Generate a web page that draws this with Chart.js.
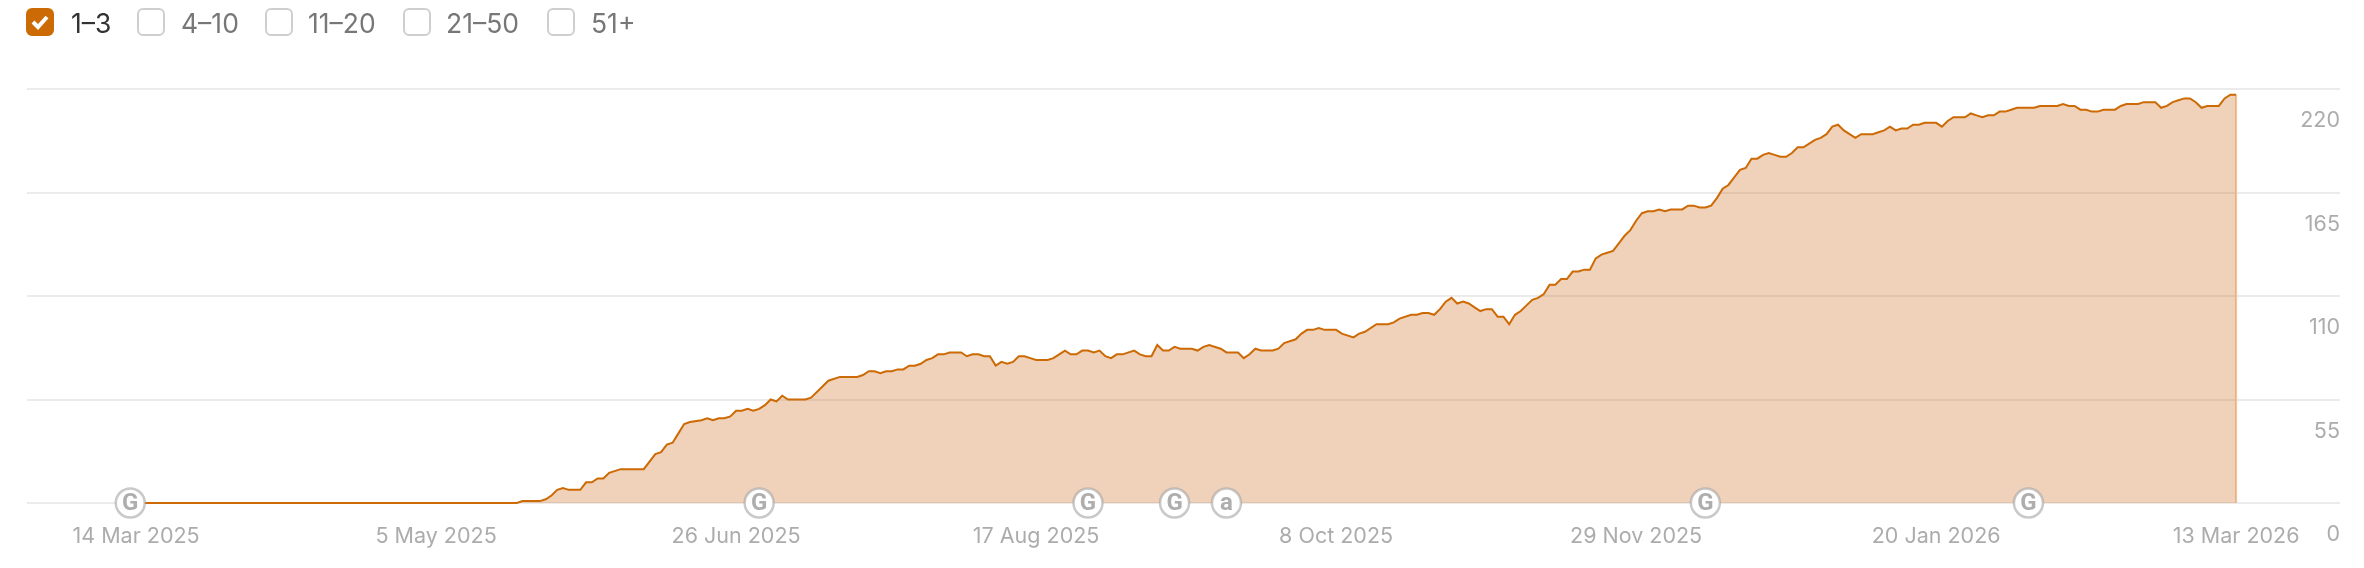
<!DOCTYPE html>
<html>
<head>
<meta charset="utf-8">
<title>Top 3 keyword positions</title>
<script src="https://cdn.jsdelivr.net/npm/chart.js@4"></script>
<style>
    html, body { margin: 0; padding: 0; background: #fff; }
    body { width: 2364px; height: 568px; position: relative; overflow: hidden; font-family: Inter, sans-serif; }
    #chart { position: absolute; left: 0; top: 0; }
    .pos { position: absolute; top: 9px; height: 28px; line-height: 28px; font-size: 26.5px; color: #777; white-space: nowrap; }
    .pos i { position: absolute; left: 0; top: -1px; width: 24px; height: 24px; border: 2px solid #cfcfcf; border-radius: 6px; background: #fff; }
    .pos span { position: absolute; top: 0; }
    .pos.on { color: #333; }
    .pos.on i { background: #cc6a05; border-color: #cc6a05; }
    .pos.on svg { position: absolute; left: 4px; top: 4px; }
</style>
</head>
<body>
<canvas id="chart" width="2364" height="568"></canvas>
<div id="legend"></div>
<script>
// days since 14 Mar 2025, only the days where the line changes direction are kept
const rankDays = [
    0, 66, 67, 70, 71, 72, 73, 74, 75, 77,
    78, 79, 80, 81, 82, 84, 88, 89, 90, 91,
    92, 93, 94, 95, 96, 98, 99, 100, 101, 102,
    103, 104, 105, 106, 107, 108, 109, 110, 111, 112,
    113, 116, 117, 120, 122, 125, 126, 127, 128, 129,
    130, 131, 132, 133, 134, 135, 136, 137, 138, 139,
    140, 141, 143, 144, 145, 146, 147, 148, 149, 150,
    151, 152, 153, 154, 155, 156, 158, 159, 160, 161,
    162, 163, 164, 165, 166, 167, 168, 169, 170, 171,
    173, 174, 175, 176, 177, 178, 179, 180, 181, 183,
    184, 185, 186, 188, 189, 191, 192, 193, 194, 195,
    197, 198, 199, 201, 202, 203, 204, 205, 206, 208,
    209, 211, 212, 213, 215, 217, 218, 219, 221, 222,
    223, 224, 225, 226, 227, 228, 229, 230, 231, 232,
    233, 234, 235, 236, 237, 238, 239, 240, 241, 242,
    243, 244, 245, 246, 247, 248, 249, 250, 251, 252,
    253, 254, 255, 256, 257, 258, 259, 260, 261, 262,
    263, 264, 265, 266, 268, 269, 270, 271, 272, 273,
    274, 275, 276, 277, 278, 279, 280, 281, 282, 283,
    284, 285, 286, 287, 288, 289, 290, 291, 292, 293,
    294, 295, 296, 297, 298, 299, 301, 302, 303, 304,
    305, 306, 307, 308, 309, 310, 312, 313, 314, 315,
    317, 318, 319, 320, 321, 322, 323, 324, 325, 326,
    329, 330, 333, 334, 335, 336, 337, 338, 339, 340,
    341, 343, 344, 345, 347, 348, 350, 351, 352, 353,
    354, 355, 356, 357, 358, 359, 361, 362, 363, 364
];
const rankValues = [
    0, 0, 1, 1, 2, 4, 7, 8, 7, 7,
    11, 11, 13, 13, 16, 18, 18, 22, 26, 27,
    31, 32, 37, 42, 43, 44, 45, 44, 45, 45,
    46, 49, 49, 50, 49, 50, 52, 55, 54, 57,
    55, 55, 56, 65, 67, 67, 68, 70, 70, 69,
    70, 70, 71, 71, 73, 73, 74, 76, 77, 79,
    79, 80, 80, 78, 79, 79, 78, 78, 73, 75,
    74, 75, 78, 78, 77, 76, 76, 77, 79, 81,
    79, 79, 81, 81, 80, 81, 78, 77, 79, 79,
    81, 79, 78, 78, 84, 81, 81, 83, 82, 82,
    81, 83, 84, 82, 80, 80, 77, 79, 82, 81,
    81, 82, 85, 87, 90, 92, 92, 93, 92, 92,
    90, 88, 90, 91, 95, 95, 96, 98, 100, 100,
    101, 101, 100, 103, 107, 109, 106, 107, 106, 104,
    102, 103, 103, 99, 99, 95, 100, 102, 105, 108,
    109, 111, 116, 116, 119, 119, 123, 123, 124, 124,
    130, 132, 133, 134, 138, 142, 145, 150, 154, 155,
    155, 156, 155, 156, 156, 158, 158, 157, 157, 158,
    162, 167, 169, 173, 177, 178, 183, 183, 185, 186,
    185, 184, 184, 186, 189, 189, 191, 193, 194, 196,
    200, 201, 198, 196, 194, 196, 196, 197, 198, 200,
    198, 199, 199, 201, 201, 202, 202, 200, 203, 205,
    205, 207, 206, 205, 206, 206, 208, 208, 209, 210,
    210, 211, 211, 212, 211, 211, 209, 209, 208, 208,
    209, 209, 211, 212, 212, 213, 213, 210, 211, 213,
    214, 215, 215, 213, 210, 211, 211, 215, 217, 217
];
const xTickDays = [0, 52, 104, 156, 208, 260, 312, 364];
const xTickLabels = ["14 Mar 2025", "5 May 2025", "26 Jun 2025", "17 Aug 2025", "8 Oct 2025", "29 Nov 2025", "20 Jan 2026", "13 Mar 2026"];
const yTicks = [0, 55, 110, 165, 220];
const eventDays = [-1, 108, 165, 180, 189, 272, 328];
const eventLetters = ["G", "G", "G", "G", "a", "G", "G"];
const positions = ["1–3", "4–10", "11–20", "21–50", "51+"];

// the position filter row above the chart
const boxLeft = [26, 137, 265, 403, 547];
const textLeft = [45, 44, 43, 43, 44];
const legend = document.getElementById("legend");
positions.forEach((name, i) => {
    const el = document.createElement("div");
    el.className = i === 0 ? "pos on" : "pos";
    el.style.left = boxLeft[i] + "px";
    el.innerHTML = `<i></i>` +
        (i === 0 ? `<svg width="20" height="18" viewBox="0 0 20 18"><path d="M3 9l5 5 9-10" fill="none" stroke="#fff" stroke-width="4"/></svg>` : "") +
        `<span style="left:${textLeft[i]}px">${name}</span>`;
    legend.appendChild(el);
});

// letters inside the update markers
const eventLetterPlugin = {
    id: "eventLetters",
    afterDatasetsDraw(chart) {
        const ctx = chart.ctx;
        ctx.save();
        ctx.textAlign = "center";
        ctx.textBaseline = "middle";
        ctx.fillStyle = "#aeaeae";
        ctx.font = "bold 24px Roboto, sans-serif";
        eventDays.forEach((day, i) => {
            ctx.fillText(eventLetters[i], chart.scales.x.getPixelForValue(day), chart.scales.y.getPixelForValue(0) + 1);
        });
        ctx.restore();
    }
};

const lastDay = rankDays[rankDays.length - 1];
const lastValue = rankValues[rankValues.length - 1];

new Chart(document.getElementById("chart"), {
    type: "line",
    plugins: [eventLetterPlugin],
    data: {
        datasets: [
            {
                // markers on the baseline
                data: eventDays.map(d => ({ x: d, y: 0 })),
                showLine: false,
                pointRadius: 14.5,
                pointBackgroundColor: "#ffffff",
                pointBorderColor: "rgba(165, 165, 165, 0.6)",
                pointBorderWidth: 2.5,
                clip: false,
                order: 0
            },
            {
                // closing edge on the right of the area
                data: [{ x: lastDay, y: 0 }, { x: lastDay, y: lastValue }],
                borderColor: "#f0c7a4",
                borderWidth: 2,
                pointRadius: 0,
                order: 2
            },
            {
                data: rankDays.map((d, i) => ({ x: d, y: rankValues[i] })),
                borderColor: "#cc6a05",
                borderWidth: 2,
                backgroundColor: "rgba(205, 102, 22, 0.3)",
                fill: "origin",
                pointRadius: 0,
                tension: 0,
                clip: false,
                order: 1
            }
        ]
    },
    options: {
        responsive: false,
        animation: false,
        layout: { padding: { left: 27, right: 24, top: 89, bottom: 0 } },
        plugins: { legend: { display: false }, tooltip: { enabled: false } },
        scales: {
            x: {
                type: "linear",
                min: -18.9,
                max: 382,
                grid: { display: false },
                border: { display: false },
                afterBuildTicks: axis => { axis.ticks = xTickDays.map(v => ({ value: v })); },
                afterFit: axis => { axis.height = 65; },
                ticks: {
                    autoSkip: false,
                    maxRotation: 0,
                    padding: 13,
                    color: "#acacac",
                    font: { family: "Inter", size: 21.5 },
                    callback: v => xTickLabels[xTickDays.indexOf(v)]
                }
            },
            y: {
                position: "right",
                min: 0,
                max: 220,
                grid: { color: "#ebebeb", lineWidth: 2, drawTicks: false },
                border: { display: false },
                afterBuildTicks: axis => { axis.ticks = yTicks.map(v => ({ value: v })); },
                ticks: {
                    mirror: true,
                    padding: 0,
                    labelOffset: 32,
                    color: "#acacac",
                    font: { family: "Inter", size: 21.5 }
                }
            }
        }
    }
});
</script>
</body>
</html>
